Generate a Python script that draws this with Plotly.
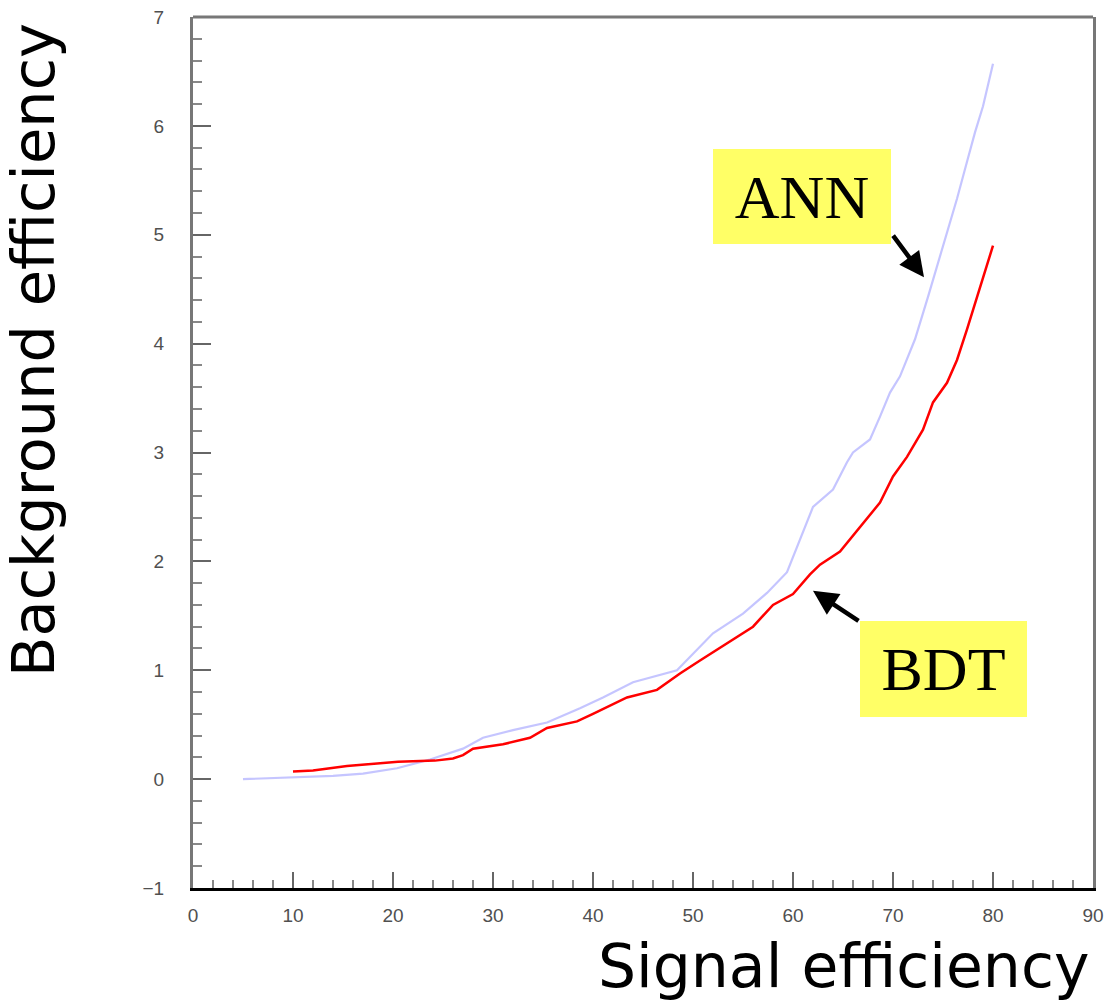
import plotly.graph_objects as go

# Background efficiency (%) versus signal efficiency (%) for the two classifiers
bdt_sig = [10, 12, 15.4, 18, 20.5, 24.2, 26, 27, 28, 31, 33.7, 35.4, 38.4, 40, 43.4,
           46.4, 48.7, 50.7, 53.4, 56, 58, 60, 61.7, 62.7, 64.7, 66.7, 68.7, 70,
           71.4, 73, 74, 75.4, 76.4, 77.4, 78.5, 80]
bdt_bkg = [0.07, 0.08, 0.12, 0.14, 0.16, 0.17, 0.19, 0.22, 0.28, 0.32, 0.38, 0.47,
           0.53, 0.60, 0.75, 0.82, 0.97, 1.09, 1.25, 1.40, 1.60, 1.70, 1.88, 1.97,
           2.09, 2.32, 2.54, 2.78, 2.96, 3.21, 3.46, 3.64, 3.85, 4.13, 4.45, 4.90]

ann_sig = [5, 8, 10.4, 14, 17, 20.4, 23.7, 27, 29, 32, 35.4, 38.7, 41, 44, 48.4,
           52, 55, 57.4, 59.4, 60.7, 62, 64, 65.4, 66, 67.7, 68.7, 69.7, 70.7, 71.7,
           72.2, 73.5, 74.4, 75.5, 76.4, 77.4, 78.2, 79, 80]
ann_bkg = [0.0, 0.01, 0.02, 0.03, 0.05, 0.10, 0.18, 0.28, 0.38, 0.45, 0.52, 0.65,
           0.75, 0.89, 1.00, 1.34, 1.52, 1.71, 1.90, 2.20, 2.50, 2.66, 2.91, 3.00,
           3.12, 3.33, 3.55, 3.70, 3.92, 4.04, 4.43, 4.71, 5.05, 5.33, 5.67, 5.94,
           6.18, 6.57]

labels = ["ANN", "BDT"]
# label box centres and arrow tips, in data units
label_pos = [(60.9, 5.35), (75.05, 1.012)]
arrow_tip = [(73.1, 4.61), (62.0, 1.73)]
arrow_off = [(-32, -43), (47, 31)]

fig = go.Figure()
fig.add_trace(go.Scatter(x=ann_sig, y=ann_bkg, mode="lines", name="ANN",
                         line=dict(color="rgba(140,140,255,0.5)", width=2.2)))
fig.add_trace(go.Scatter(x=bdt_sig, y=bdt_bkg, mode="lines", name="BDT",
                         line=dict(color="#ff0000", width=2.5)))

tick_font = dict(family="Liberation Sans, Arial, sans-serif", size=19, color="#505050")

fig.update_xaxes(range=[0, 90], dtick=10, tick0=0, ticks="inside", ticklen=16,
                 tickwidth=2, tickcolor="#666666", showgrid=False, zeroline=False,
                 showline=True, linecolor="#000000", linewidth=3, automargin=False,
                 tickfont=tick_font, ticklabelstandoff=8,
                 minor=dict(dtick=2, tick0=0, ticks="inside", ticklen=8,
                            tickwidth=2, tickcolor="#888888", showgrid=False))
fig.update_yaxes(range=[-1, 7], dtick=1, tick0=0, ticks="inside", ticklen=18,
                 tickwidth=2, tickcolor="#666666", showgrid=False, zeroline=False,
                 showline=True, linecolor="#777777", linewidth=3, mirror=True,
                 automargin=False, tickfont=tick_font, ticklabelstandoff=22,
                 minor=dict(dtick=0.2, tick0=0, ticks="inside", ticklen=9,
                            tickwidth=2, tickcolor="#888888", showgrid=False))

# top frame edge
fig.add_shape(type="line", xref="paper", yref="paper", x0=0, x1=1, y0=1, y1=1,
              line=dict(color="#777777", width=3))

title_font = dict(family="Comic Sans MS, DejaVu Sans, sans-serif", size=60, color="#000000")
annotations = [
    dict(text="Signal efficiency", xref="paper", yref="paper", x=0.7228, y=-0.0896,
         xanchor="center", yanchor="middle", showarrow=False, font=title_font),
    dict(text="Background efficiency", xref="paper", yref="paper", x=-0.1767, y=0.6177,
         xanchor="center", yanchor="middle", textangle=-90, showarrow=False,
         font=dict(title_font, size=59)),
]
box_sizes = [(178, 95), (167, 96)]
for lab, (cx, cy), (w, h) in zip(labels, label_pos, box_sizes):
    annotations.append(dict(text=lab, x=cx, y=cy, xref="x", yref="y", showarrow=False,
                            xanchor="center", yanchor="middle", width=w, height=h,
                            bgcolor="#ffff66", borderpad=0, borderwidth=0,
                            font=dict(family="Liberation Serif, Times New Roman, serif",
                                      size=62, color="#000000")))
for (tx, ty), (ax, ay) in zip(arrow_tip, arrow_off):
    annotations.append(dict(text="", x=tx, y=ty, xref="x", yref="y", ax=ax, ay=ay,
                            showarrow=True, arrowhead=2, arrowsize=1.1, arrowwidth=4.5,
                            arrowcolor="#000000"))

fig.update_layout(width=1109, height=1004, margin=dict(l=193, r=16, t=17, b=116),
                  paper_bgcolor="#ffffff", plot_bgcolor="#ffffff", showlegend=False,
                  annotations=annotations)

fig.write_html("out.html")
